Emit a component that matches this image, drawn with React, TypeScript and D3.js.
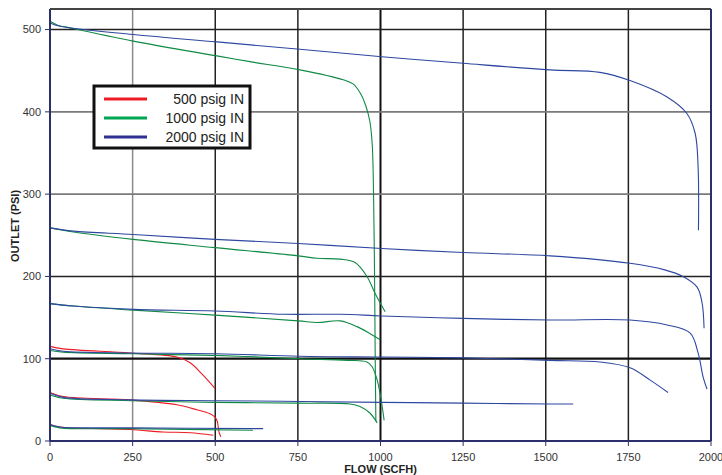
import React from 'react';
import * as d3 from 'd3';

// flow (SCFH), outlet (PSI)
const red110 = [[0,115],[40,112],[242,107],[384,102],[424,95],[463,80],[499,64]];
const red55 = [[0,59],[40,54],[242,50],[384,44],[444,38],[484,33],[499,29],[506,24],[509,17],[512,10],[517,5]];
const red18 = [[0,20],[30,17],[242,14],[342,11],[424,10],[494,7]];

const green500 = [[0,510],[25,505],[50,503],[252,486],[505,468],[605,461],[756,451],[887,439],[917,434],[940,422],[955,408],[968,388],[975,360],[979,300],[982,200],[984,100],[986,24]];
const green260 = [[0,259],[71,254],[252,245],[499,235],[751,225],[808,222],[878,221],[923,217],[959,200],[983,180],[1014,157]];
const green165 = [[0,167],[71,164],[252,159],[499,153],[751,146],[808,144],[878,146],[929,139],[970,130],[999,123]];
const green110 = [[0,110],[40,108],[250,106],[500,104],[756,100],[900,98],[959,96],[975,90],[990,74],[1000,55],[1011,25]];
const green55 = [[0,56],[40,52],[250,49],[500,47],[756,46],[908,45],[938,42],[968,34],[990,22]];
const green18 = [[0,19],[30,16],[242,15],[614,13]];

const blue500 = [[0,508],[30,504],[252,494],[505,485],[756,476],[1004,467],[1250,459],[1513,451],[1664,448],[1755,438],[1867,418],[1927,398],[1952,374],[1961,333],[1962,256]];
const blue260 = [[0,259],[71,255],[252,251],[499,245],[751,240],[1004,234],[1250,229],[1513,225],[1755,216],[1860,208],[1915,200],[1958,187],[1973,168],[1979,137]];
const blue165 = [[0,167],[71,164],[252,160],[499,158],[706,154],[878,154],[1004,152],[1250,149],[1513,147],[1755,147],[1867,141],[1937,131],[1961,107],[1976,78],[1988,63]];
const blue110 = [[0,112],[40,109],[242,107],[505,106],[756,103],[1004,102],[1250,101],[1513,98],[1664,96],[1755,89],[1816,74],[1870,59]];
const blue55 = [[0,58],[40,53],[242,50],[505,49],[756,48],[1004,47],[1250,46],[1513,45],[1583,45]];
const blue18 = [[0,20],[30,17],[242,16],[645,15]];

const xTicks = [0, 250, 500, 750, 1000, 1250, 1500, 1750, 2000];
const yTicks = [0, 100, 200, 300, 400, 500];
const legendNames = ['500 psig IN', '1000 psig IN', '2000 psig IN'];
const colors = ['#ed1c24', '#0f8a45', '#2e47a0'];
const legendColors = ['#ed1c24', '#00a651', '#2e3192'];

const W = 722, H = 475;
const L = 50, R = 711, T = 9, B = 441;

const App = () => {
  const x = d3.scaleLinear().domain([0, 2000]).range([L, R]);
  const y = d3.scaleLinear().domain([0, 525]).range([B, T]);
  const line = d3.line<number[]>().x(d => x(d[0])).y(d => y(d[1])).curve(d3.curveCatmullRom.alpha(0.5));

  const groups = [
    [red110, red55, red18],
    [green500, green260, green165, green110, green55, green18],
    [blue500, blue260, blue165, blue110, blue55, blue18],
  ];

  // gridline look varies a bit in the original
  const vGrid = { 250: ['#8a8a8a', 1.5], 1000: ['#111', 2] };
  const hGrid = { 100: ['#111', 2.2], 300: ['#7a7a7a', 1.8], 400: ['#7a7a7a', 1.8] };
  const font = 'Arial, "Liberation Sans", sans-serif';

  return (
    <svg width={W} height={H} style={{ position: 'absolute', left: 0, top: 0 }} fontFamily={font}>
      <rect x={0} y={0} width={W} height={H} fill="#fff" />
      {/* grid */}
      {xTicks.slice(1, -1).map(t => {
        const s = vGrid[t] || ['#222', 1.5];
        return <line key={'v' + t} x1={x(t)} x2={x(t)} y1={T} y2={B} stroke={s[0]} strokeWidth={s[1]} />;
      })}
      {yTicks.slice(1).map(t => {
        const s = hGrid[t] || ['#222', 1.5];
        return <line key={'h' + t} x1={L} x2={R} y1={y(t)} y2={y(t)} stroke={s[0]} strokeWidth={s[1]} />;
      })}
      <line x1={L} x2={R} y1={T} y2={T} stroke="#444" strokeWidth={1.8} />
      <line x1={R} x2={R} y1={T} y2={B} stroke="#2b2f6b" strokeWidth={2} />

      {/* curves */}
      {groups.map((g, i) =>
        g.map((pts, j) => (
          <path key={i + '-' + j} d={line(pts) || ''} fill="none" stroke={colors[i]} strokeWidth={1.1} />
        ))
      )}

      {/* axes */}
      <line x1={L} x2={L} y1={T} y2={B} stroke="#2b2f6b" strokeWidth={2} />
      <line x1={L} x2={R} y1={B} y2={B} stroke="#2b2f6b" strokeWidth={2} />
      {yTicks.map(t => (
        <g key={'yt' + t}>
          <line x1={L - 5} x2={L} y1={y(t)} y2={y(t)} stroke="#2b2f6b" strokeWidth={1} />
          <text x={L - 9} y={y(t)} dy="0.35em" textAnchor="end" fontSize={11} fill="#333">{t}</text>
        </g>
      ))}
      {xTicks.map(t => (
        <g key={'xt' + t}>
          <line x1={x(t)} x2={x(t)} y1={B} y2={B + 5} stroke="#2b2f6b" strokeWidth={1} />
          <text x={x(t)} y={B + 16} dy="0.35em" textAnchor="middle" fontSize={11} fill="#333">{t}</text>
        </g>
      ))}
      <text x={(L + R) / 2} y={469} dy="0.35em" textAnchor="middle" fontSize={11} fontWeight="bold" fill="#222">FLOW (SCFH)</text>
      <text transform={`translate(15,${226}) rotate(-90)`} dy="0.35em" textAnchor="middle" fontSize={11} fontWeight="bold" fill="#222">OUTLET (PSI)</text>

      {/* legend */}
      <rect x={94} y={86} width={156} height={62} fill="#fff" stroke="#111" strokeWidth={3} />
      {legendNames.map((n, i) => (
        <g key={n}>
          <line x1={104} x2={147} y1={99 + i * 19} y2={99 + i * 19} stroke={legendColors[i]} strokeWidth={3} />
          <text x={244} y={99 + i * 19} dy="0.35em" textAnchor="end" fontSize={14} fill="#222">{n}</text>
        </g>
      ))}
    </svg>
  );
};

export default App;
